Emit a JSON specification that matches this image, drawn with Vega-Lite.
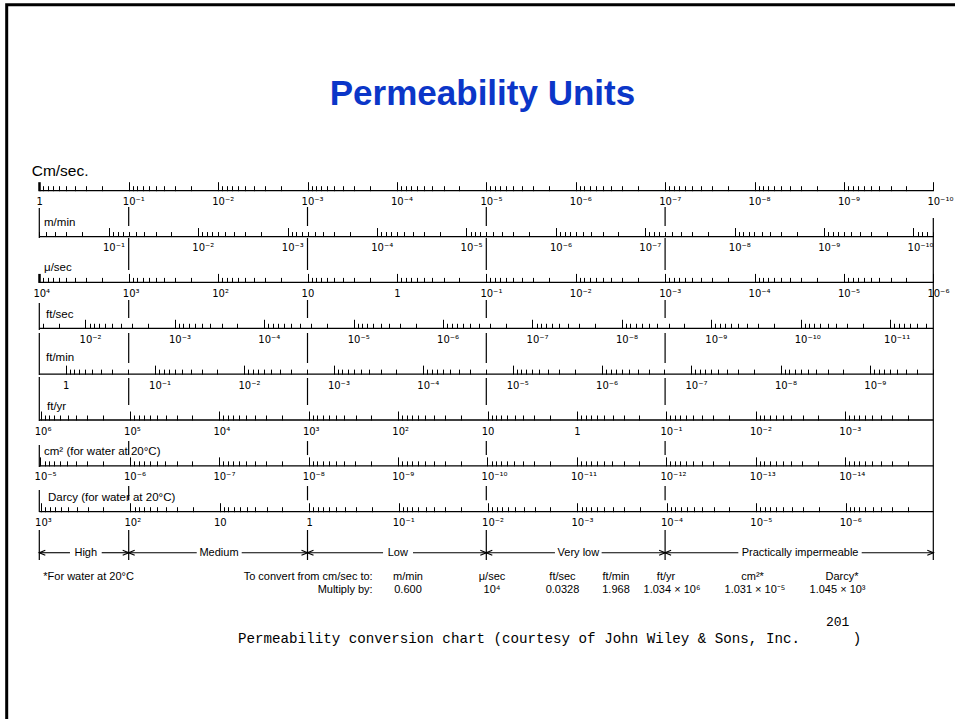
{
  "$schema": "https://vega.github.io/schema/vega-lite/v6.json",
  "width": 955,
  "height": 719,
  "autosize": "none",
  "padding": 0,
  "background": "white",
  "config": {"view": {"stroke": null}},
  "resolve": {"scale": {"x": "independent"}, "axis": {"x": "independent"}},
  "layer": [
    {
      "layer": [
        {
          "data": {"values": [{"x": -0.3647, "x2": 11, "y": -4.0558, "y2": 12}]},
          "mark": {"type": "rect", "filled": false, "color": "black", "strokeWidth": 3},
          "encoding": {
            "x": {"field": "x", "type": "quantitative", "scale": {"domain": [-0.4396, 10.2427], "nice": false, "zero": false}, "axis": null},
            "x2": {"field": "x2"},
            "y": {"field": "y", "type": "quantitative", "scale": {"domain": [-4.1583, 11.5198], "reverse": true, "nice": false, "zero": false}, "axis": null},
            "y2": {"field": "y2"}
          }
        },
        {
          "data": {"values": [
            {"x": 1, "y": 0.356, "y2": 0.77}, {"x": 1, "y": 1.031, "y2": 1.729}, {"x": 1, "y": 2.383, "y2": 2.776}, {"x": 1, "y": 3.103, "y2": 3.757}, {"x": 1, "y": 4.084, "y2": 4.673}, {"x": 1, "y": 5.459, "y2": 5.764}, {"x": 1, "y": 6.44, "y2": 6.75}, {"x": 1, "y": 7.399, "y2": 8.053},
            {"x": 3, "y": 0.356, "y2": 0.77}, {"x": 3, "y": 1.031, "y2": 1.729}, {"x": 3, "y": 2.383, "y2": 2.776}, {"x": 3, "y": 3.103, "y2": 3.757}, {"x": 3, "y": 4.084, "y2": 4.673}, {"x": 3, "y": 5.459, "y2": 5.764}, {"x": 3, "y": 6.44, "y2": 6.75}, {"x": 3, "y": 7.399, "y2": 8.053},
            {"x": 5, "y": 0.356, "y2": 0.77}, {"x": 5, "y": 1.031, "y2": 1.729}, {"x": 5, "y": 2.383, "y2": 2.776}, {"x": 5, "y": 3.103, "y2": 3.757}, {"x": 5, "y": 4.084, "y2": 4.673}, {"x": 5, "y": 5.459, "y2": 5.764}, {"x": 5, "y": 6.44, "y2": 6.75}, {"x": 5, "y": 7.399, "y2": 8.053},
            {"x": 7, "y": 0.356, "y2": 0.77}, {"x": 7, "y": 1.031, "y2": 1.729}, {"x": 7, "y": 2.383, "y2": 2.776}, {"x": 7, "y": 3.103, "y2": 3.757}, {"x": 7, "y": 4.084, "y2": 4.673}, {"x": 7, "y": 5.459, "y2": 5.764}, {"x": 7, "y": 6.44, "y2": 6.75}, {"x": 7, "y": 7.399, "y2": 8.053},
            {"x": 0, "y": 0.377, "y2": 1.031}, {"x": 0, "y": 2.45, "y2": 3.038}, {"x": 0, "y": 3.103, "y2": 4.019}, {"x": 0, "y": 4.063, "y2": 5.022}, {"x": 0, "y": 5.545, "y2": 6.025}, {"x": 0, "y": 6.527, "y2": 7.006}, {"x": 0, "y": 7.399, "y2": 8.053},
            {"x": 10, "y": 0.595, "y2": 8.053}
          ]},
          "mark": {"type": "rule", "color": "black", "strokeWidth": 1.2},
          "encoding": {
            "x": {"field": "x", "type": "quantitative", "scale": {"domain": [-0.4396, 10.2427], "nice": false, "zero": false}, "axis": null},
            "y": {"field": "y", "type": "quantitative", "scale": {"domain": [-4.1583, 11.5198], "reverse": true, "nice": false, "zero": false}, "axis": null},
            "y2": {"field": "y2"}
          }
        },
        {
          "data": {"values": [
            {"x": 0, "x2": 0.343, "y": 7.894}, {"x": 0.698, "x2": 1, "y": 7.894},
            {"x": 1, "x2": 1.761, "y": 7.894}, {"x": 2.264, "x2": 3, "y": 7.894},
            {"x": 3, "x2": 3.845, "y": 7.894}, {"x": 4.18, "x2": 5, "y": 7.894},
            {"x": 5, "x2": 5.768, "y": 7.894}, {"x": 6.29, "x2": 7, "y": 7.894},
            {"x": 7, "x2": 7.819, "y": 7.894}, {"x": 9.199, "x2": 10, "y": 7.894}
          ]},
          "mark": {"type": "rule", "color": "black", "strokeWidth": 1.1},
          "encoding": {
            "x": {"field": "x", "type": "quantitative", "scale": {"domain": [-0.4396, 10.2427], "nice": false, "zero": false}, "axis": null},
            "x2": {"field": "x2"},
            "y": {"field": "y", "type": "quantitative", "scale": {"domain": [-4.1583, 11.5198], "reverse": true, "nice": false, "zero": false}, "axis": null}
          }
        },
        {
          "data": {"values": [{"x": 1, "y": 7.894}, {"x": 3, "y": 7.894}, {"x": 5, "y": 7.894}, {"x": 7, "y": 7.894}, {"x": 10, "y": 7.894}]},
          "mark": {"type": "point", "shape": "M-1.2,-0.5L0,0L-1.2,0.5", "filled": false, "color": "black", "strokeWidth": 1.2, "size": 100, "opacity": 1},
          "encoding": {
            "x": {"field": "x", "type": "quantitative", "scale": {"domain": [-0.4396, 10.2427], "nice": false, "zero": false}, "axis": null},
            "y": {"field": "y", "type": "quantitative", "scale": {"domain": [-4.1583, 11.5198], "reverse": true, "nice": false, "zero": false}, "axis": null}
          }
        },
        {
          "data": {"values": [{"x": 0, "y": 7.894}, {"x": 1, "y": 7.894}, {"x": 3, "y": 7.894}, {"x": 5, "y": 7.894}, {"x": 7, "y": 7.894}]},
          "mark": {"type": "point", "shape": "M1.2,-0.5L0,0L1.2,0.5", "filled": false, "color": "black", "strokeWidth": 1.2, "size": 100, "opacity": 1},
          "encoding": {
            "x": {"field": "x", "type": "quantitative", "scale": {"domain": [-0.4396, 10.2427], "nice": false, "zero": false}, "axis": null},
            "y": {"field": "y", "type": "quantitative", "scale": {"domain": [-4.1583, 11.5198], "reverse": true, "nice": false, "zero": false}, "axis": null}
          }
        },
        {
          "data": {"values": [{"t": "Permeability Units", "x": 4.957, "y": -1.869}]},
          "mark": {"type": "text", "font": "Liberation Sans", "fontWeight": "bold", "fontSize": 35, "color": "#0b36c8", "align": "center", "baseline": "alphabetic"},
          "encoding": {
            "x": {"field": "x", "type": "quantitative", "scale": {"domain": [-0.4396, 10.2427], "nice": false, "zero": false}, "axis": null},
            "y": {"field": "y", "type": "quantitative", "scale": {"domain": [-4.1583, 11.5198], "reverse": true, "nice": false, "zero": false}, "axis": null},
            "text": {"field": "t"}
          }
        },
        {
          "data": {"values": [{"t": "Cm/sec.", "x": -0.085, "y": -0.43}]},
          "mark": {"type": "text", "font": "Liberation Sans", "fontSize": 15.5, "color": "black", "align": "left", "baseline": "middle"},
          "encoding": {
            "x": {"field": "x", "type": "quantitative", "scale": {"domain": [-0.4396, 10.2427], "nice": false, "zero": false}, "axis": null},
            "y": {"field": "y", "type": "quantitative", "scale": {"domain": [-4.1583, 11.5198], "reverse": true, "nice": false, "zero": false}, "axis": null},
            "text": {"field": "t"}
          }
        },
        {
          "data": {"values": [
            {"t": "m/min", "x": 0.053, "y": 0.71},
            {"t": "μ/sec", "x": 0.053, "y": 1.69},
            {"t": "ft/sec", "x": 0.075, "y": 2.71},
            {"t": "ft/min", "x": 0.075, "y": 3.64},
            {"t": "ft/yr", "x": 0.086, "y": 4.72},
            {"t": "cm² (for water at 20°C)", "x": 0.053, "y": 5.7},
            {"t": "Darcy (for water at 20°C)", "x": 0.097, "y": 6.7}
          ]},
          "mark": {"type": "text", "font": "Liberation Sans", "fontSize": 11.5, "color": "black", "align": "left", "baseline": "middle"},
          "encoding": {
            "x": {"field": "x", "type": "quantitative", "scale": {"domain": [-0.4396, 10.2427], "nice": false, "zero": false}, "axis": null},
            "y": {"field": "y", "type": "quantitative", "scale": {"domain": [-4.1583, 11.5198], "reverse": true, "nice": false, "zero": false}, "axis": null},
            "text": {"field": "t"}
          }
        },
        {
          "data": {"values": [
            {"t": "High", "x": 0.52, "y": 7.894},
            {"t": "Medium", "x": 2.01, "y": 7.894},
            {"t": "Low", "x": 4.01, "y": 7.894},
            {"t": "Very low", "x": 6.03, "y": 7.894},
            {"t": "Practically impermeable", "x": 8.51, "y": 7.894},
            {"t": "m/min", "x": 4.124, "y": 8.423},
            {"t": "0.600", "x": 4.124, "y": 8.707},
            {"t": "μ/sec", "x": 5.064, "y": 8.423},
            {"t": "10⁴", "x": 5.064, "y": 8.707},
            {"t": "ft/sec", "x": 5.852, "y": 8.423},
            {"t": "0.0328", "x": 5.852, "y": 8.707},
            {"t": "ft/min", "x": 6.451, "y": 8.423},
            {"t": "1.968", "x": 6.451, "y": 8.707},
            {"t": "ft/yr", "x": 7.01, "y": 8.423},
            {"t": "1.034 × 10⁶", "x": 7.077, "y": 8.707},
            {"t": "cm²*", "x": 7.978, "y": 8.423},
            {"t": "1.031 × 10⁻⁵", "x": 8.005, "y": 8.707},
            {"t": "Darcy*", "x": 8.979, "y": 8.423},
            {"t": "1.045 × 10³", "x": 8.929, "y": 8.707}
          ]},
          "mark": {"type": "text", "font": "Liberation Sans", "fontSize": 11, "color": "black", "align": "center", "baseline": "middle"},
          "encoding": {
            "x": {"field": "x", "type": "quantitative", "scale": {"domain": [-0.4396, 10.2427], "nice": false, "zero": false}, "axis": null},
            "y": {"field": "y", "type": "quantitative", "scale": {"domain": [-4.1583, 11.5198], "reverse": true, "nice": false, "zero": false}, "axis": null},
            "text": {"field": "t"}
          }
        },
        {
          "data": {"values": [{"t": "*For water at 20°C", "x": 0.045, "y": 8.423}]},
          "mark": {"type": "text", "font": "Liberation Sans", "fontSize": 11, "color": "black", "align": "left", "baseline": "middle"},
          "encoding": {
            "x": {"field": "x", "type": "quantitative", "scale": {"domain": [-0.4396, 10.2427], "nice": false, "zero": false}, "axis": null},
            "y": {"field": "y", "type": "quantitative", "scale": {"domain": [-4.1583, 11.5198], "reverse": true, "nice": false, "zero": false}, "axis": null},
            "text": {"field": "t"}
          }
        },
        {
          "data": {"values": [{"t": "To convert from cm/sec to:", "x": 3.729, "y": 8.423}, {"t": "Multiply by:", "x": 3.729, "y": 8.707}]},
          "mark": {"type": "text", "font": "Liberation Sans", "fontSize": 11, "color": "black", "align": "right", "baseline": "middle"},
          "encoding": {
            "x": {"field": "x", "type": "quantitative", "scale": {"domain": [-0.4396, 10.2427], "nice": false, "zero": false}, "axis": null},
            "y": {"field": "y", "type": "quantitative", "scale": {"domain": [-4.1583, 11.5198], "reverse": true, "nice": false, "zero": false}, "axis": null},
            "text": {"field": "t"}
          }
        },
        {
          "data": {"values": [{"t": "Permeability conversion chart (courtesy of John Wiley & Sons, Inc.", "x": 2.223, "y": 9.78}, {"t": ")", "x": 9.1, "y": 9.78}]},
          "mark": {"type": "text", "font": "Liberation Mono", "fontSize": 14.2, "color": "black", "align": "left", "baseline": "middle"},
          "encoding": {
            "x": {"field": "x", "type": "quantitative", "scale": {"domain": [-0.4396, 10.2427], "nice": false, "zero": false}, "axis": null},
            "y": {"field": "y", "type": "quantitative", "scale": {"domain": [-4.1583, 11.5198], "reverse": true, "nice": false, "zero": false}, "axis": null},
            "text": {"field": "t"}
          }
        },
        {
          "data": {"values": [{"t": "201", "x": 8.8, "y": 9.41}]},
          "mark": {"type": "text", "font": "Liberation Mono", "fontSize": 13, "color": "black", "align": "left", "baseline": "middle"},
          "encoding": {
            "x": {"field": "x", "type": "quantitative", "scale": {"domain": [-0.4396, 10.2427], "nice": false, "zero": false}, "axis": null},
            "y": {"field": "y", "type": "quantitative", "scale": {"domain": [-4.1583, 11.5198], "reverse": true, "nice": false, "zero": false}, "axis": null},
            "text": {"field": "t"}
          }
        }
      ]
    },
    {
      "data": {"values": [{"a": 1, "b": 1e-10, "y": 0}]},
      "mark": {"type": "rule", "color": "black", "strokeWidth": 1.3},
      "encoding": {
        "x": {"field": "a", "type": "quantitative",
          "scale": {"type": "log", "domain": [5.7184e-11, 2.7517], "reverse": true, "nice": false, "zero": false},
          "axis": {"orient": "bottom", "offset": -528.3, "domain": false, "grid": false, "title": null, "tickCount": 60,
            "labelOverlap": false, "labelFlush": false, "labelBound": false, "tickColor": "black", "labelColor": "black",
            "tickSize": {"condition": {"test": "abs(log(datum.value)/LN10-round(log(datum.value)/LN10))<0.001", "value": -9}, "value": -5},
            "tickWidth": {"condition": {"test": "abs(datum.value-1)<0.0001", "value": 2.5}, "value": 1},
            "tickOpacity": {"condition": {"test": "datum.value>1*1.0001||datum.value<1*pow(10,-10)*0.9999", "value": 0}, "value": 1},
            "labelExpr": "(!(abs(log(datum.value)/LN10-round(log(datum.value)/LN10))<0.001)||datum.value>1*1.0001||datum.value<1*pow(10,-10)*0.9999)?'':(round(log(datum.value)/LN10)==0?'1':(round(log(datum.value)/LN10)==1?'10':'10'+(round(log(datum.value)/LN10)<0?'⁻':'')+(abs(round(log(datum.value)/LN10))>=10?substring('⁰¹²³⁴⁵⁶⁷⁸⁹',floor(abs(round(log(datum.value)/LN10))/10),floor(abs(round(log(datum.value)/LN10))/10)+1):'')+substring('⁰¹²³⁴⁵⁶⁷⁸⁹',abs(round(log(datum.value)/LN10))%10,abs(round(log(datum.value)/LN10))%10+1)))",
            "labelFont": "DejaVu Sans", "labelFontSize": 10, "labelAlign": "left", "labelBaseline": "alphabetic", "labelPadding": 23,
            "labelOffset": {"condition": {"test": "abs(log(datum.value)/LN10)<0.001", "value": -3.2}, "value": -6.4}
          }},
        "x2": {"field": "b"},
        "y": {"field": "y", "type": "quantitative", "scale": {"domain": [-4.1583, 11.5198], "reverse": true, "nice": false, "zero": false}, "axis": null}
      }
    },
    {
      "data": {"values": [{"a": 0.6, "b": 6e-11, "y": 1}]},
      "mark": {"type": "rule", "color": "black", "strokeWidth": 1.3},
      "encoding": {
        "x": {"field": "a", "type": "quantitative",
          "scale": {"type": "log", "domain": [3.431e-11, 1.65102], "reverse": true, "nice": false, "zero": false},
          "axis": {"orient": "bottom", "offset": -482.44, "domain": false, "grid": false, "title": null, "tickCount": 60,
            "labelOverlap": false, "labelFlush": false, "labelBound": false, "tickColor": "black", "labelColor": "black",
            "tickSize": {"condition": {"test": "abs(log(datum.value)/LN10-round(log(datum.value)/LN10))<0.001", "value": -9}, "value": -5},
            "tickOpacity": {"condition": {"test": "datum.value>0.6*1.0001||datum.value<0.6*pow(10,-10)*0.9999", "value": 0}, "value": 1},
            "labelExpr": "(!(abs(log(datum.value)/LN10-round(log(datum.value)/LN10))<0.001)||datum.value>0.6*1.0001||datum.value<0.6*pow(10,-10)*0.9999)?'':(round(log(datum.value)/LN10)==0?'1':(round(log(datum.value)/LN10)==1?'10':'10'+(round(log(datum.value)/LN10)<0?'⁻':'')+(abs(round(log(datum.value)/LN10))>=10?substring('⁰¹²³⁴⁵⁶⁷⁸⁹',floor(abs(round(log(datum.value)/LN10))/10),floor(abs(round(log(datum.value)/LN10))/10)+1):'')+substring('⁰¹²³⁴⁵⁶⁷⁸⁹',abs(round(log(datum.value)/LN10))%10,abs(round(log(datum.value)/LN10))%10+1)))",
            "labelFont": "DejaVu Sans", "labelFontSize": 10, "labelAlign": "left", "labelBaseline": "alphabetic", "labelPadding": 23,
            "labelOffset": {"condition": {"test": "abs(log(datum.value)/LN10)<0.001", "value": -3.2}, "value": -6.4}
          }},
        "x2": {"field": "b"},
        "y": {"field": "y", "type": "quantitative", "scale": {"domain": [-4.1583, 11.5198], "reverse": true, "nice": false, "zero": false}, "axis": null}
      }
    },
    {
      "data": {"values": [{"a": 10000, "b": 1e-6, "y": 2}]},
      "mark": {"type": "rule", "color": "black", "strokeWidth": 1.3},
      "encoding": {
        "x": {"field": "a", "type": "quantitative",
          "scale": {"type": "log", "domain": [5.7184e-7, 27517], "reverse": true, "nice": false, "zero": false},
          "axis": {"orient": "bottom", "offset": -436.58, "domain": false, "grid": false, "title": null, "tickCount": 60,
            "labelOverlap": false, "labelFlush": false, "labelBound": false, "tickColor": "black", "labelColor": "black",
            "tickSize": {"condition": {"test": "abs(log(datum.value)/LN10-round(log(datum.value)/LN10))<0.001", "value": -9}, "value": -5},
            "tickWidth": {"condition": {"test": "abs(datum.value-10000)<1", "value": 2.5}, "value": 1},
            "tickOpacity": {"condition": {"test": "datum.value>10000*1.0001||datum.value<10000*pow(10,-10)*0.9999", "value": 0}, "value": 1},
            "labelExpr": "(!(abs(log(datum.value)/LN10-round(log(datum.value)/LN10))<0.001)||datum.value>10000*1.0001||datum.value<10000*pow(10,-10)*0.9999)?'':(round(log(datum.value)/LN10)==0?'1':(round(log(datum.value)/LN10)==1?'10':'10'+(round(log(datum.value)/LN10)<0?'⁻':'')+(abs(round(log(datum.value)/LN10))>=10?substring('⁰¹²³⁴⁵⁶⁷⁸⁹',floor(abs(round(log(datum.value)/LN10))/10),floor(abs(round(log(datum.value)/LN10))/10)+1):'')+substring('⁰¹²³⁴⁵⁶⁷⁸⁹',abs(round(log(datum.value)/LN10))%10,abs(round(log(datum.value)/LN10))%10+1)))",
            "labelFont": "DejaVu Sans", "labelFontSize": 10, "labelAlign": "left", "labelBaseline": "alphabetic", "labelPadding": 23,
            "labelOffset": {"condition": {"test": "abs(log(datum.value)/LN10)<0.001", "value": -3.2}, "value": -6.4}
          }},
        "x2": {"field": "b"},
        "y": {"field": "y", "type": "quantitative", "scale": {"domain": [-4.1583, 11.5198], "reverse": true, "nice": false, "zero": false}, "axis": null}
      }
    },
    {
      "data": {"values": [{"a": 0.0328, "b": 3.28e-12, "y": 3}]},
      "mark": {"type": "rule", "color": "black", "strokeWidth": 1.3},
      "encoding": {
        "x": {"field": "a", "type": "quantitative",
          "scale": {"type": "log", "domain": [1.87564e-12, 0.090256], "reverse": true, "nice": false, "zero": false},
          "axis": {"orient": "bottom", "offset": -390.72, "domain": false, "grid": false, "title": null, "tickCount": 60,
            "labelOverlap": false, "labelFlush": false, "labelBound": false, "tickColor": "black", "labelColor": "black",
            "tickSize": {"condition": {"test": "abs(log(datum.value)/LN10-round(log(datum.value)/LN10))<0.001", "value": -9}, "value": -5},
            "tickOpacity": {"condition": {"test": "datum.value>0.0328*1.0001||datum.value<0.0328*pow(10,-10)*0.9999", "value": 0}, "value": 1},
            "labelExpr": "(!(abs(log(datum.value)/LN10-round(log(datum.value)/LN10))<0.001)||datum.value>0.0328*1.0001||datum.value<0.0328*pow(10,-10)*0.9999)?'':(round(log(datum.value)/LN10)==0?'1':(round(log(datum.value)/LN10)==1?'10':'10'+(round(log(datum.value)/LN10)<0?'⁻':'')+(abs(round(log(datum.value)/LN10))>=10?substring('⁰¹²³⁴⁵⁶⁷⁸⁹',floor(abs(round(log(datum.value)/LN10))/10),floor(abs(round(log(datum.value)/LN10))/10)+1):'')+substring('⁰¹²³⁴⁵⁶⁷⁸⁹',abs(round(log(datum.value)/LN10))%10,abs(round(log(datum.value)/LN10))%10+1)))",
            "labelFont": "DejaVu Sans", "labelFontSize": 10, "labelAlign": "left", "labelBaseline": "alphabetic", "labelPadding": 23,
            "labelOffset": {"condition": {"test": "abs(log(datum.value)/LN10)<0.001", "value": -3.2}, "value": -6.4}
          }},
        "x2": {"field": "b"},
        "y": {"field": "y", "type": "quantitative", "scale": {"domain": [-4.1583, 11.5198], "reverse": true, "nice": false, "zero": false}, "axis": null}
      }
    },
    {
      "data": {"values": [{"a": 1.968, "b": 1.968e-10, "y": 4}]},
      "mark": {"type": "rule", "color": "black", "strokeWidth": 1.3},
      "encoding": {
        "x": {"field": "a", "type": "quantitative",
          "scale": {"type": "log", "domain": [1.12538e-10, 5.41535], "reverse": true, "nice": false, "zero": false},
          "axis": {"orient": "bottom", "offset": -344.86, "domain": false, "grid": false, "title": null, "tickCount": 60,
            "labelOverlap": false, "labelFlush": false, "labelBound": false, "tickColor": "black", "labelColor": "black",
            "tickSize": {"condition": {"test": "abs(log(datum.value)/LN10-round(log(datum.value)/LN10))<0.001", "value": -9}, "value": -5},
            "tickOpacity": {"condition": {"test": "datum.value>1.968*1.0001||datum.value<1.968*pow(10,-10)*0.9999", "value": 0}, "value": 1},
            "labelExpr": "(!(abs(log(datum.value)/LN10-round(log(datum.value)/LN10))<0.001)||datum.value>1.968*1.0001||datum.value<1.968*pow(10,-10)*0.9999)?'':(round(log(datum.value)/LN10)==0?'1':(round(log(datum.value)/LN10)==1?'10':'10'+(round(log(datum.value)/LN10)<0?'⁻':'')+(abs(round(log(datum.value)/LN10))>=10?substring('⁰¹²³⁴⁵⁶⁷⁸⁹',floor(abs(round(log(datum.value)/LN10))/10),floor(abs(round(log(datum.value)/LN10))/10)+1):'')+substring('⁰¹²³⁴⁵⁶⁷⁸⁹',abs(round(log(datum.value)/LN10))%10,abs(round(log(datum.value)/LN10))%10+1)))",
            "labelFont": "DejaVu Sans", "labelFontSize": 10, "labelAlign": "left", "labelBaseline": "alphabetic", "labelPadding": 23,
            "labelOffset": {"condition": {"test": "abs(log(datum.value)/LN10)<0.001", "value": -3.2}, "value": -6.4}
          }},
        "x2": {"field": "b"},
        "y": {"field": "y", "type": "quantitative", "scale": {"domain": [-4.1583, 11.5198], "reverse": true, "nice": false, "zero": false}, "axis": null}
      }
    },
    {
      "data": {"values": [{"a": 1034000, "b": 0.0001034, "y": 5}]},
      "mark": {"type": "rule", "color": "black", "strokeWidth": 1.3},
      "encoding": {
        "x": {"field": "a", "type": "quantitative",
          "scale": {"type": "log", "domain": [5.91283e-5, 2845258], "reverse": true, "nice": false, "zero": false},
          "axis": {"orient": "bottom", "offset": -299.0, "domain": false, "grid": false, "title": null, "tickCount": 60,
            "labelOverlap": false, "labelFlush": false, "labelBound": false, "tickColor": "black", "labelColor": "black",
            "tickSize": {"condition": {"test": "abs(log(datum.value)/LN10-round(log(datum.value)/LN10))<0.001", "value": -9}, "value": -5},
            "tickOpacity": {"condition": {"test": "datum.value>1034000*1.0001||datum.value<1034000*pow(10,-10)*0.9999", "value": 0}, "value": 1},
            "labelExpr": "(!(abs(log(datum.value)/LN10-round(log(datum.value)/LN10))<0.001)||datum.value>1034000*1.0001||datum.value<1034000*pow(10,-10)*0.9999)?'':(round(log(datum.value)/LN10)==0?'1':(round(log(datum.value)/LN10)==1?'10':'10'+(round(log(datum.value)/LN10)<0?'⁻':'')+(abs(round(log(datum.value)/LN10))>=10?substring('⁰¹²³⁴⁵⁶⁷⁸⁹',floor(abs(round(log(datum.value)/LN10))/10),floor(abs(round(log(datum.value)/LN10))/10)+1):'')+substring('⁰¹²³⁴⁵⁶⁷⁸⁹',abs(round(log(datum.value)/LN10))%10,abs(round(log(datum.value)/LN10))%10+1)))",
            "labelFont": "DejaVu Sans", "labelFontSize": 10, "labelAlign": "left", "labelBaseline": "alphabetic", "labelPadding": 23,
            "labelOffset": {"condition": {"test": "abs(log(datum.value)/LN10)<0.001", "value": -3.2}, "value": -6.4}
          }},
        "x2": {"field": "b"},
        "y": {"field": "y", "type": "quantitative", "scale": {"domain": [-4.1583, 11.5198], "reverse": true, "nice": false, "zero": false}, "axis": null}
      }
    },
    {
      "data": {"values": [{"a": 1.031e-5, "b": 1.031e-15, "y": 6}]},
      "mark": {"type": "rule", "color": "black", "strokeWidth": 1.3},
      "encoding": {
        "x": {"field": "a", "type": "quantitative",
          "scale": {"type": "log", "domain": [5.89567e-16, 2.837e-5], "reverse": true, "nice": false, "zero": false},
          "axis": {"orient": "bottom", "offset": -253.14, "domain": false, "grid": false, "title": null, "tickCount": 60,
            "labelOverlap": false, "labelFlush": false, "labelBound": false, "tickColor": "black", "labelColor": "black",
            "tickSize": {"condition": {"test": "abs(log(datum.value)/LN10-round(log(datum.value)/LN10))<0.001", "value": -9}, "value": -5},
            "tickOpacity": {"condition": {"test": "datum.value>1.031*pow(10,-5)*1.0001||datum.value<1.031*pow(10,-15)*0.9999", "value": 0}, "value": 1},
            "labelExpr": "(!(abs(log(datum.value)/LN10-round(log(datum.value)/LN10))<0.001)||datum.value>1.031*pow(10,-5)*1.0001||datum.value<1.031*pow(10,-15)*0.9999)?'':(round(log(datum.value)/LN10)==0?'1':(round(log(datum.value)/LN10)==1?'10':'10'+(round(log(datum.value)/LN10)<0?'⁻':'')+(abs(round(log(datum.value)/LN10))>=10?substring('⁰¹²³⁴⁵⁶⁷⁸⁹',floor(abs(round(log(datum.value)/LN10))/10),floor(abs(round(log(datum.value)/LN10))/10)+1):'')+substring('⁰¹²³⁴⁵⁶⁷⁸⁹',abs(round(log(datum.value)/LN10))%10,abs(round(log(datum.value)/LN10))%10+1)))",
            "labelFont": "DejaVu Sans", "labelFontSize": 10, "labelAlign": "left", "labelBaseline": "alphabetic", "labelPadding": 23,
            "labelOffset": {"condition": {"test": "abs(log(datum.value)/LN10)<0.001", "value": -3.2}, "value": -6.4}
          }},
        "x2": {"field": "b"},
        "y": {"field": "y", "type": "quantitative", "scale": {"domain": [-4.1583, 11.5198], "reverse": true, "nice": false, "zero": false}, "axis": null}
      }
    },
    {
      "data": {"values": [{"a": 1045, "b": 1.045e-7, "y": 7}]},
      "mark": {"type": "rule", "color": "black", "strokeWidth": 1.3},
      "encoding": {
        "x": {"field": "a", "type": "quantitative",
          "scale": {"type": "log", "domain": [5.97573e-8, 2875.53], "reverse": true, "nice": false, "zero": false},
          "axis": {"orient": "bottom", "offset": -207.28, "domain": false, "grid": false, "title": null, "tickCount": 60,
            "labelOverlap": false, "labelFlush": false, "labelBound": false, "tickColor": "black", "labelColor": "black",
            "tickSize": {"condition": {"test": "abs(log(datum.value)/LN10-round(log(datum.value)/LN10))<0.001", "value": -9}, "value": -5},
            "tickOpacity": {"condition": {"test": "datum.value>1045*1.0001||datum.value<1045*pow(10,-10)*0.9999", "value": 0}, "value": 1},
            "labelExpr": "(!(abs(log(datum.value)/LN10-round(log(datum.value)/LN10))<0.001)||datum.value>1045*1.0001||datum.value<1045*pow(10,-10)*0.9999)?'':(round(log(datum.value)/LN10)==0?'1':(round(log(datum.value)/LN10)==1?'10':'10'+(round(log(datum.value)/LN10)<0?'⁻':'')+(abs(round(log(datum.value)/LN10))>=10?substring('⁰¹²³⁴⁵⁶⁷⁸⁹',floor(abs(round(log(datum.value)/LN10))/10),floor(abs(round(log(datum.value)/LN10))/10)+1):'')+substring('⁰¹²³⁴⁵⁶⁷⁸⁹',abs(round(log(datum.value)/LN10))%10,abs(round(log(datum.value)/LN10))%10+1)))",
            "labelFont": "DejaVu Sans", "labelFontSize": 10, "labelAlign": "left", "labelBaseline": "alphabetic", "labelPadding": 23,
            "labelOffset": {"condition": {"test": "abs(log(datum.value)/LN10)<0.001", "value": -3.2}, "value": -6.4}
          }},
        "x2": {"field": "b"},
        "y": {"field": "y", "type": "quantitative", "scale": {"domain": [-4.1583, 11.5198], "reverse": true, "nice": false, "zero": false}, "axis": null}
      }
    }
  ]
}
